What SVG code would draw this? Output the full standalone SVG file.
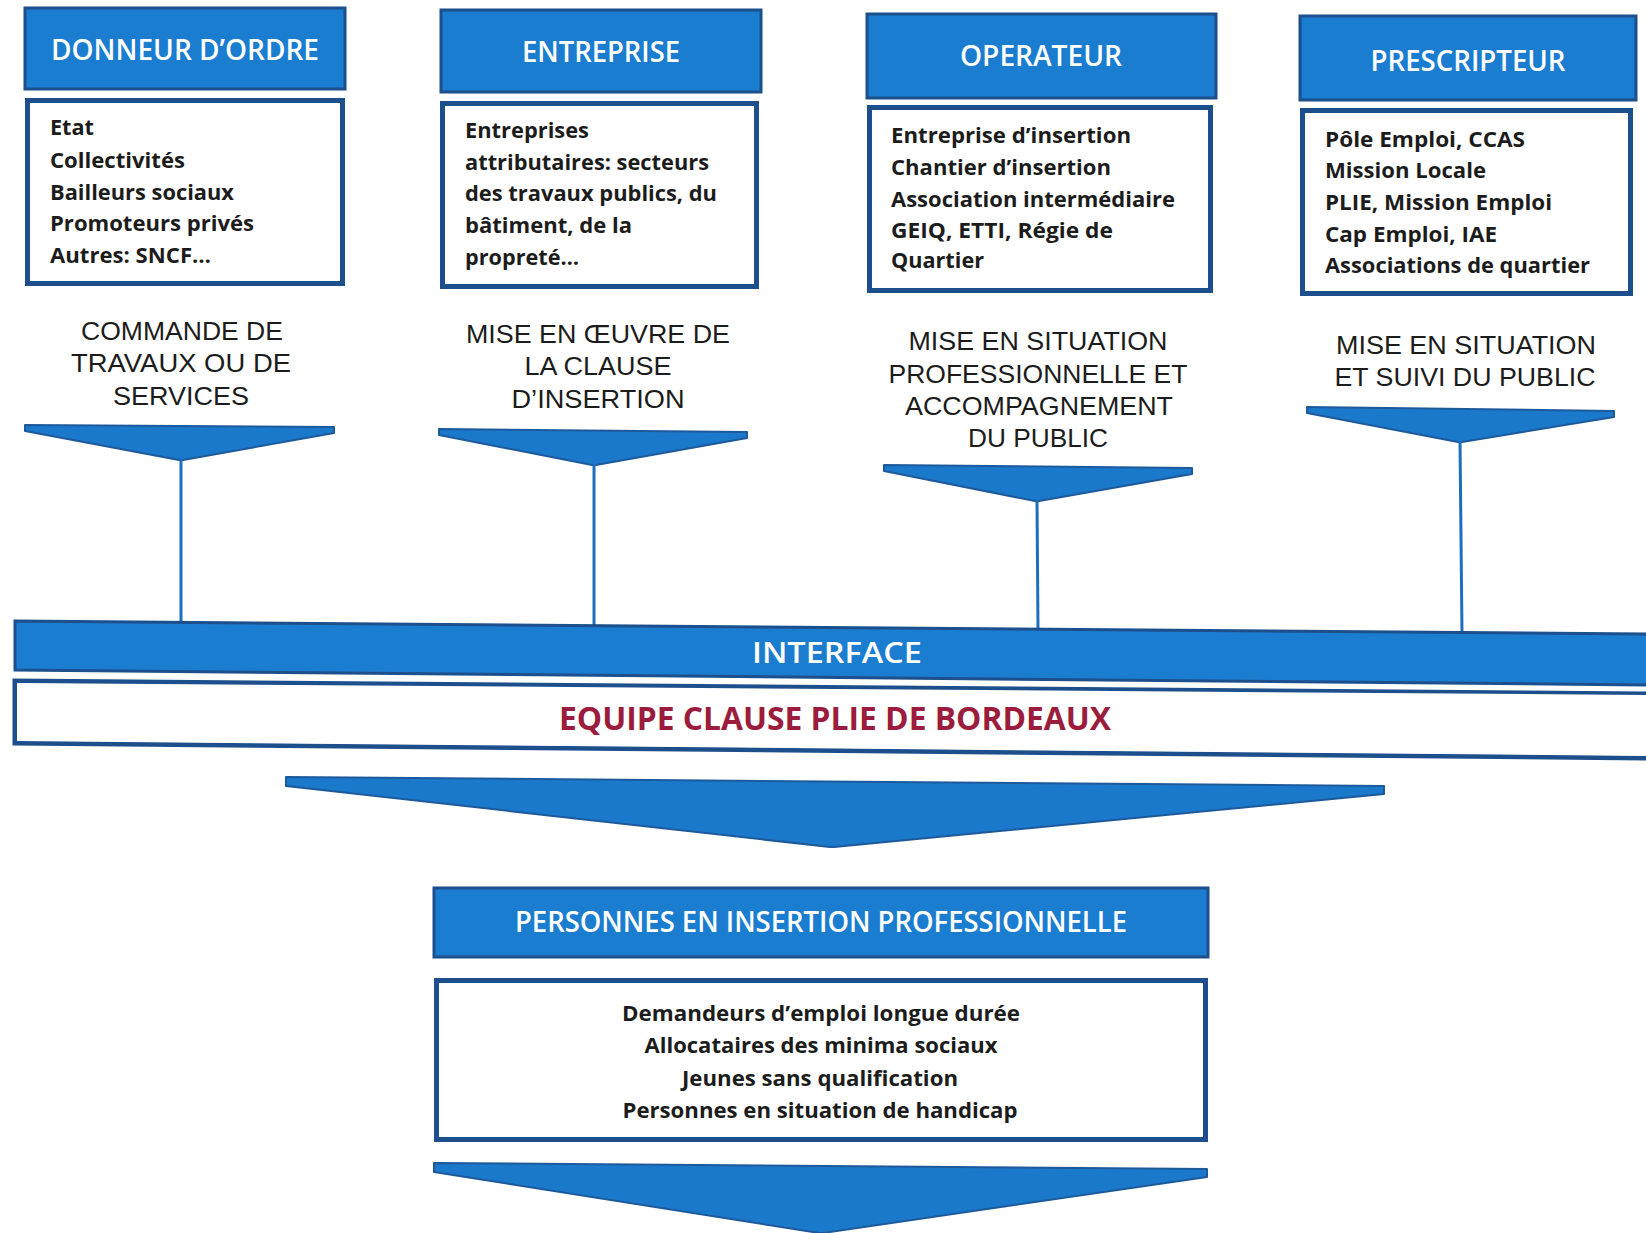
<svg xmlns="http://www.w3.org/2000/svg" width="1646" height="1233" viewBox="0 0 1646 1233">
  <defs>
    <style>
      .hdr { fill: #1b7dd0; stroke: #1d4f8c; stroke-width: 3; }
      .body { fill: #ffffff; stroke: #1d4f8c; stroke-width: 5; }
      .hdr-t { font-family: "Open Sans", "Liberation Sans", sans-serif; font-size: 28px; font-weight: 600; fill: #ffffff; text-anchor: middle; }
      .body-t { font-family: "Open Sans", "Liberation Sans", sans-serif; font-size: 22px; font-weight: bold; fill: #1c1c1c; }
      .cap-t { font-family: "Liberation Sans", Arial, sans-serif; font-size: 26px; fill: #1c1c1c; text-anchor: middle; }
      .funnel { fill: #1b79cb; stroke: #1d5a9c; stroke-width: 2; stroke-linejoin: round; }
      .link { stroke: #1b6fbe; stroke-width: 3; fill: none; }
      .bar { fill: #1b7dd0; stroke: #1d4f8c; stroke-width: 3; }
      .band { fill: #ffffff; stroke: #1d4f8c; stroke-width: 5; }
    </style>
  </defs>
  <rect width="1646" height="1233" fill="#ffffff"/>

  <!-- Actor: DONNEUR D'ORDRE -->
  <g id="donneur">
    <rect class="hdr" x="25" y="8" width="320" height="81"/>
    <text class="hdr-t" x="185" y="60" textLength="268" lengthAdjust="spacingAndGlyphs">DONNEUR D’ORDRE</text>
    <rect class="body" x="27.5" y="100.5" width="315" height="183"/>
    <text class="body-t" x="50" y="135" textLength="44" lengthAdjust="spacingAndGlyphs">Etat</text>
    <text class="body-t" x="50" y="168" textLength="135" lengthAdjust="spacingAndGlyphs">Collectivités</text>
    <text class="body-t" x="50" y="200" textLength="184" lengthAdjust="spacingAndGlyphs">Bailleurs sociaux</text>
    <text class="body-t" x="50" y="231" textLength="204" lengthAdjust="spacingAndGlyphs">Promoteurs privés</text>
    <text class="body-t" x="50" y="263" textLength="161" lengthAdjust="spacingAndGlyphs">Autres: SNCF…</text>
    <text class="cap-t" x="182" y="340" textLength="202" lengthAdjust="spacingAndGlyphs">COMMANDE DE</text>
    <text class="cap-t" x="181" y="372" textLength="220" lengthAdjust="spacingAndGlyphs">TRAVAUX OU DE</text>
    <text class="cap-t" x="181" y="405" textLength="136" lengthAdjust="spacingAndGlyphs">SERVICES</text>
  </g>

  <!-- Actor: ENTREPRISE -->
  <g id="entreprise">
    <rect class="hdr" x="441" y="10" width="320" height="82"/>
    <text class="hdr-t" x="601" y="62" textLength="158" lengthAdjust="spacingAndGlyphs">ENTREPRISE</text>
    <rect class="body" x="442.5" y="103.5" width="314" height="183"/>
    <text class="body-t" x="465" y="138" textLength="124" lengthAdjust="spacingAndGlyphs">Entreprises</text>
    <text class="body-t" x="465" y="170" textLength="244" lengthAdjust="spacingAndGlyphs">attributaires: secteurs</text>
    <text class="body-t" x="465" y="201" textLength="252" lengthAdjust="spacingAndGlyphs">des travaux publics, du</text>
    <text class="body-t" x="465" y="233" textLength="167" lengthAdjust="spacingAndGlyphs">bâtiment, de la</text>
    <text class="body-t" x="465" y="265" textLength="114" lengthAdjust="spacingAndGlyphs">propreté…</text>
    <text class="cap-t" x="598" y="343" textLength="264" lengthAdjust="spacingAndGlyphs">MISE EN ŒUVRE DE</text>
    <text class="cap-t" x="598" y="375" textLength="147" lengthAdjust="spacingAndGlyphs">LA CLAUSE</text>
    <text class="cap-t" x="598" y="408" textLength="173" lengthAdjust="spacingAndGlyphs">D’INSERTION</text>
  </g>

  <!-- Actor: OPERATEUR -->
  <g id="operateur">
    <rect class="hdr" x="867" y="14" width="349" height="84"/>
    <text class="hdr-t" x="1041" y="66" textLength="162" lengthAdjust="spacingAndGlyphs">OPERATEUR</text>
    <rect class="body" x="869.5" y="107.5" width="341" height="183"/>
    <text class="body-t" x="891" y="143" textLength="240" lengthAdjust="spacingAndGlyphs">Entreprise d’insertion</text>
    <text class="body-t" x="891" y="175" textLength="220" lengthAdjust="spacingAndGlyphs">Chantier d’insertion</text>
    <text class="body-t" x="891" y="207" textLength="284" lengthAdjust="spacingAndGlyphs">Association intermédiaire</text>
    <text class="body-t" x="891" y="238" textLength="222" lengthAdjust="spacingAndGlyphs">GEIQ, ETTI, Régie de</text>
    <text class="body-t" x="891" y="268" textLength="93" lengthAdjust="spacingAndGlyphs">Quartier</text>
    <text class="cap-t" x="1038" y="350" textLength="259" lengthAdjust="spacingAndGlyphs">MISE EN SITUATION</text>
    <text class="cap-t" x="1038" y="383" textLength="299" lengthAdjust="spacingAndGlyphs">PROFESSIONNELLE ET</text>
    <text class="cap-t" x="1039" y="415" textLength="268" lengthAdjust="spacingAndGlyphs">ACCOMPAGNEMENT</text>
    <text class="cap-t" x="1038" y="447" textLength="140" lengthAdjust="spacingAndGlyphs">DU PUBLIC</text>
  </g>

  <!-- Actor: PRESCRIPTEUR -->
  <g id="prescripteur">
    <rect class="hdr" x="1300" y="16" width="336" height="84"/>
    <text class="hdr-t" x="1468" y="71" textLength="195" lengthAdjust="spacingAndGlyphs">PRESCRIPTEUR</text>
    <rect class="body" x="1302.5" y="110.5" width="328" height="183"/>
    <text class="body-t" x="1325" y="147" textLength="200" lengthAdjust="spacingAndGlyphs">Pôle Emploi, CCAS</text>
    <text class="body-t" x="1325" y="178" textLength="161" lengthAdjust="spacingAndGlyphs">Mission Locale</text>
    <text class="body-t" x="1325" y="210" textLength="227" lengthAdjust="spacingAndGlyphs">PLIE, Mission Emploi</text>
    <text class="body-t" x="1325" y="242" textLength="172" lengthAdjust="spacingAndGlyphs">Cap Emploi, IAE</text>
    <text class="body-t" x="1325" y="273" textLength="265" lengthAdjust="spacingAndGlyphs">Associations de quartier</text>
    <text class="cap-t" x="1466" y="354" textLength="260" lengthAdjust="spacingAndGlyphs">MISE EN SITUATION</text>
    <text class="cap-t" x="1465" y="386" textLength="261" lengthAdjust="spacingAndGlyphs">ET SUIVI DU PUBLIC</text>
  </g>

  <!-- Funnels and drop lines into the interface bar -->
  <g id="connectors">
    <path class="funnel" d="M25 425 L334 427 L334 433 L183 460 L179 460 L25 431 Z"/>
    <line class="link" x1="181" y1="459" x2="181" y2="623"/>
    <path class="funnel" d="M439 429 L747 432 L747 438 L596 465 L592 465 L439 435 Z"/>
    <line class="link" x1="594" y1="464" x2="594" y2="626"/>
    <path class="funnel" d="M884 465 L1192 468 L1192 474 L1039 501 L1035 501 L884 471 Z"/>
    <line class="link" x1="1037" y1="500" x2="1038" y2="630"/>
    <path class="funnel" d="M1307 407 L1614 411 L1614 417 L1462 442 L1458 442 L1307 413 Z"/>
    <line class="link" x1="1460" y1="441" x2="1462" y2="634"/>
  </g>

  <!-- Shared interface bar -->
  <g id="interface">
    <path class="bar" d="M15 621 L1650 634 L1650 685 L15 670 Z"/>
    <text class="hdr-t" x="837" y="663" textLength="170" lengthAdjust="spacingAndGlyphs">INTERFACE</text>
  </g>

  <!-- Coordinating team band -->
  <g id="equipe">
    <path class="band" d="M1655 694 L15 681 L15 743 L1655 758"/>
    <path d="M1655 695 L17 683 L17 741 L1655 756 Z" fill="#ffffff"/>
    <text x="835" y="730" font-family="'Open Sans', 'Liberation Sans', sans-serif" font-size="33" font-weight="bold" fill="#9b1c3c" text-anchor="middle" textLength="552" lengthAdjust="spacingAndGlyphs">EQUIPE CLAUSE PLIE DE BORDEAUX</text>
  </g>

  <!-- Arrow down to the public -->
  <g id="arrow-public">
    <path class="funnel" d="M286 777 L1384 786 L1384 794 L834 847 L830 847 L286 786 Z"/>
  </g>

  <!-- Target public -->
  <g id="personnes">
    <rect class="hdr" x="434" y="888" width="774" height="69"/>
    <text class="hdr-t" x="821" y="932" textLength="612" lengthAdjust="spacingAndGlyphs">PERSONNES EN INSERTION PROFESSIONNELLE</text>
    <rect class="body" x="436.5" y="980.5" width="769" height="159"/>
    <text class="body-t" x="821" y="1021" text-anchor="middle" textLength="398" lengthAdjust="spacingAndGlyphs">Demandeurs d’emploi longue durée</text>
    <text class="body-t" x="821" y="1053" text-anchor="middle" textLength="353" lengthAdjust="spacingAndGlyphs">Allocataires des minima sociaux</text>
    <text class="body-t" x="820" y="1086" text-anchor="middle" textLength="276" lengthAdjust="spacingAndGlyphs">Jeunes sans qualification</text>
    <text class="body-t" x="820" y="1118" text-anchor="middle" textLength="395" lengthAdjust="spacingAndGlyphs">Personnes en situation de handicap</text>
  </g>

  <!-- Closing arrow -->
  <g id="arrow-end">
    <path class="funnel" d="M434 1163 L1207 1169 L1207 1177 L823 1233 L819 1233 L434 1172 Z"/>
  </g>
</svg>
